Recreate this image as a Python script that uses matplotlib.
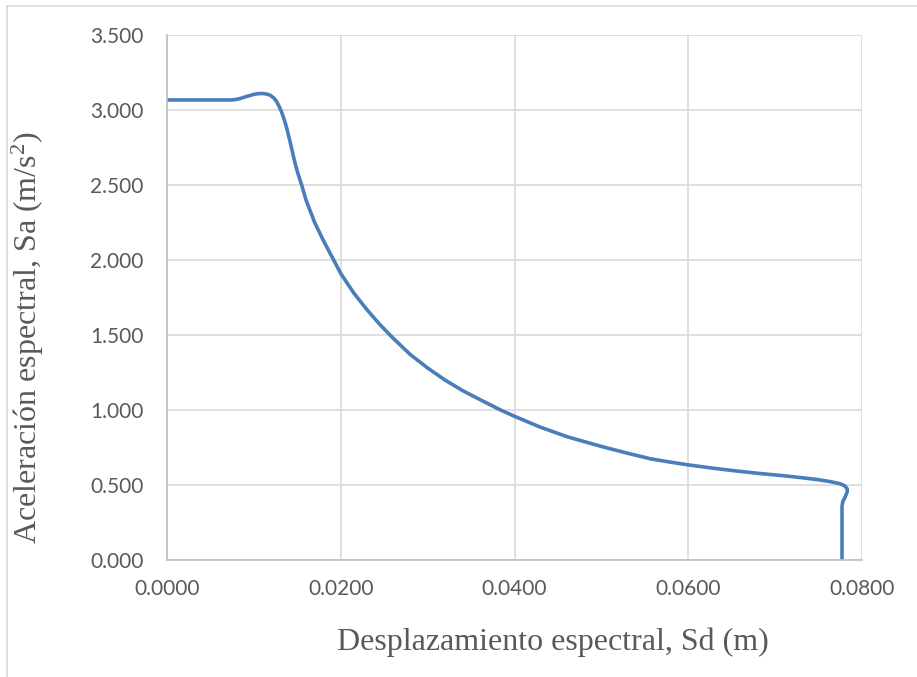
import matplotlib
matplotlib.use("Agg")
import matplotlib.pyplot as plt
from matplotlib.lines import Line2D

# Capacity spectrum (Sd in m, Sa in m/s2)
sd = [0.0000, 0.0075, 0.0080, 0.0085, 0.0090, 0.0095, 0.0100, 0.0105,
      0.0110, 0.0115, 0.0119, 0.0123, 0.0126, 0.0129, 0.0132, 0.0135,
      0.0138, 0.0141, 0.0144, 0.0147, 0.0150, 0.0155, 0.0160, 0.0170,
      0.0180, 0.0190, 0.0200, 0.0215, 0.0230, 0.0245, 0.0260, 0.0280,
      0.0300, 0.0320, 0.0340, 0.0360, 0.0384, 0.0400, 0.0430, 0.0461,
      0.0500, 0.0530, 0.0557, 0.0580, 0.0600, 0.0630, 0.0653, 0.0680,
      0.0711, 0.0730, 0.0749, 0.0765, 0.0775, 0.0780, 0.0783, 0.0783,
      0.0781, 0.0778, 0.0777, 0.0777]
sa = [3.067, 3.067, 3.071, 3.078, 3.087, 3.096, 3.104, 3.109,
      3.110, 3.106, 3.098, 3.080, 3.058, 3.025, 2.985, 2.935,
      2.875, 2.805, 2.730, 2.655, 2.590, 2.500, 2.400, 2.250,
      2.130, 2.020, 1.910, 1.780, 1.670, 1.570, 1.480, 1.370,
      1.280, 1.200, 1.130, 1.070, 1.000, 0.958, 0.885, 0.821,
      0.757, 0.712, 0.674, 0.652, 0.634, 0.611, 0.595, 0.578,
      0.561, 0.549, 0.536, 0.521, 0.508, 0.495, 0.475, 0.455,
      0.425, 0.390, 0.360, 0.000]

x_ticks = [0.0, 0.02, 0.04, 0.06, 0.08]
y_ticks = [0.0, 0.5, 1.0, 1.5, 2.0, 2.5, 3.0, 3.5]

LINE = "#4A7EBB"
GRID = "#D9D9D9"
TXT = "#595959"

plt.rcParams["mathtext.fontset"] = "custom"
plt.rcParams["mathtext.rm"] = "Liberation Serif"

fig = plt.figure(figsize=(9.17, 6.77), dpi=100)
ax = fig.add_axes([167 / 917, 1 - 560 / 677, 695 / 917, 525 / 677])

ax.plot(sd, sa, color=LINE, linewidth=2.6, solid_capstyle="round",
        solid_joinstyle="round")

ax.set_xlim(0, 0.08)
ax.set_ylim(0, 3.5)
ax.set_xticks(x_ticks)
ax.set_yticks(y_ticks)
ax.set_xticklabels([f"{v:.4f}" for v in x_ticks])
ax.set_yticklabels([f"{v:.3f}" for v in y_ticks])
ax.grid(True, color=GRID, linewidth=1.2)
ax.set_axisbelow(True)

for s in ("top", "right"):
    ax.spines[s].set_visible(False)
for s in ("left", "bottom"):
    ax.spines[s].set_color("#BFBFBF")
    ax.spines[s].set_linewidth(1.2)

ax.tick_params(length=0, colors=TXT, labelsize=15)
ax.tick_params(axis="y", pad=17)
ax.tick_params(axis="x", pad=14)
for lab in ax.get_xticklabels() + ax.get_yticklabels():
    lab.set_family("Lato")

fig.text(553 / 917, 1 - 642 / 677, "Desplazamiento espectral, Sd (m)",
         family="Liberation Serif", fontsize=23, color=TXT,
         ha="center", va="center")
fig.text(28 / 917, 1 - 338 / 677,
         "Aceleración espectral, Sa (m/s$\\mathregular{^2}$)",
         family="Liberation Serif", fontsize=23, color=TXT,
         ha="center", va="center", rotation=90)

# chart-area border (top and left edges visible in the crop)
fig.add_artist(Line2D([7 / 917, 1.0], [1 - 6 / 677, 1 - 6 / 677],
                      color=GRID, linewidth=1.2, transform=fig.transFigure))
fig.add_artist(Line2D([7 / 917, 7 / 917], [0.0, 1 - 6 / 677],
                      color=GRID, linewidth=1.2, transform=fig.transFigure))

fig.savefig("out.png", dpi=100)
